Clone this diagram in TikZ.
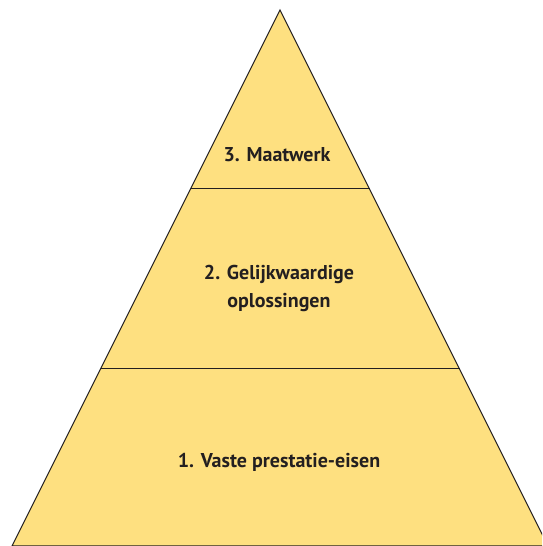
\documentclass[tikz,border=0pt]{standalone}
\usepackage{fontspec}
\setmainfont{PT Sans}
\usepackage{xcolor}
\definecolor{piramidegeel}{RGB}{254,224,128}
\definecolor{lijngrijs}{RGB}{35,31,32}

\begin{document}
\begin{tikzpicture}[x=1pt,y=1pt,
		laag/.style={font=\bfseries\fontsize{20}{28.5}\selectfont, text=lijngrijs, align=center, anchor=base}]
		\useasboundingbox (0,0) rectangle (542,546);
		\clip (0,0) rectangle (542,546);
		
		\filldraw [fill=piramidegeel, draw=lijngrijs, line width=1pt] (280,536) -- (548,0) -- (12,0) -- cycle;
		\draw [lijngrijs, line width=1pt] (190.5,357) -- (369.5,357);
		\draw [lijngrijs, line width=1pt] (100.5,177) -- (459.5,177);
		
		\node[laag] (maatwerk) at (277,384) {3. Maatwerk};
		\node[laag] (gelijkwaardig) at (279,238) {2. Gelijkwaardige\\oplossingen};
		\node[laag] (vast) at (279,78) {1. Vaste prestatie-eisen};
	\end{tikzpicture}
\end{document}
